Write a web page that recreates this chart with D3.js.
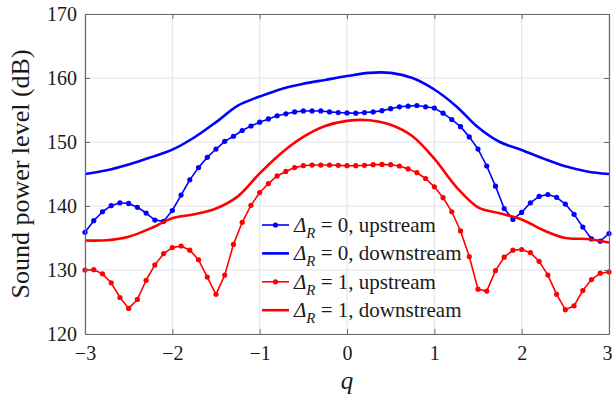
<!DOCTYPE html>
<html>
<head>
<meta charset="utf-8">
<script src="https://cdn.jsdelivr.net/npm/d3@7"></script>
<style>
  body { margin: 0; background: #fff; }
  svg text { font-family: "Liberation Serif", "Times New Roman", serif; fill: #1a1a1a; }
  .grid line { stroke: #e3e3e3; stroke-width: 1; }
  .axis path, .axis line { stroke: #6b6b6b; }
</style>
</head>
<body>
<svg id="chart" width="612" height="398"></svg>
<script>
// q positions of the marker series (step 0.1)
var qMarkers = d3.range(61).map(function(i) { return Math.round((-3 + i * 0.1) * 10) / 10; });
// q positions of the smooth series (step 0.25)
var qSmooth = d3.range(25).map(function(i) { return -3 + i * 0.25; });

var up0 = [135.9, 137.7, 139.1, 140.05, 140.5, 140.4, 139.8, 138.9, 137.8, 137.6,
  139.3, 141.7, 144.1, 146.0, 147.6, 148.9, 150.1, 150.9, 151.8, 152.5,
  153.1, 153.6, 154.1, 154.4, 154.7, 154.85, 154.85, 154.85, 154.7, 154.6,
  154.55, 154.5, 154.6, 154.7, 154.9, 155.2, 155.5, 155.6, 155.7, 155.5,
  155.3, 154.5, 153.5, 152.4, 150.8, 148.9, 146.25, 143.1, 139.6, 137.9,
  139.0, 140.5, 141.5, 141.8, 141.35, 140.3, 138.7, 136.7, 134.85, 134.5, 135.7];
var down0 = [145.0, 145.6, 146.5, 147.6, 148.8, 150.7, 153.1, 155.7, 157.1, 158.3,
  159.1, 159.7, 160.3, 160.8, 160.8, 160.0, 158.2, 155.6, 152.3, 150.0,
  148.75, 147.4, 146.2, 145.4, 145.0];
var up1 = [130.0, 130.05, 129.4, 128.0, 125.7, 124.0, 125.4, 128.4, 130.8, 132.55,
  133.5, 133.75, 133.1, 131.6, 128.9, 126.2, 129.2, 134.0, 137.45, 140.1,
  142.1, 143.5, 144.7, 145.4, 146.0, 146.3, 146.4, 146.4, 146.4, 146.35,
  146.3, 146.3, 146.35, 146.45, 146.5, 146.45, 146.25, 145.8, 145.2, 144.3,
  143.0, 141.3, 139.1, 136.1, 132.1, 127.0, 126.7, 129.9, 132.0, 133.1,
  133.2, 132.7, 131.35, 129.2, 126.2, 123.8, 124.4, 126.8, 128.5, 129.5, 129.7];
var down1 = [134.6, 134.65, 135.2, 136.5, 138.1, 138.7, 139.6, 141.5, 145.1, 148.3,
  150.8, 152.5, 153.3, 153.4, 152.7, 150.9, 147.4, 143.0, 139.8, 138.85,
  137.9, 136.2, 135.0, 134.85, 134.3];

var xTicks = [-3, -2, -1, 0, 1, 2, 3];
var yTicks = [120, 130, 140, 150, 160, 170];

var series = [
  {name: '0, upstream', q: qMarkers, v: up0, color: '#0000ff', markers: true},
  {name: '0, downstream', q: qSmooth, v: down0, color: '#0000ff', markers: false},
  {name: '1, upstream', q: qMarkers, v: up1, color: '#ff0000', markers: true},
  {name: '1, downstream', q: qSmooth, v: down1, color: '#ff0000', markers: false}
];

var margin = {top: 14, right: 3, bottom: 64, left: 85};
var width = 612 - margin.left - margin.right;
var height = 398 - margin.top - margin.bottom;

var svg = d3.select('#chart');
var g = svg.append('g').attr('transform', 'translate(' + margin.left + ',' + margin.top + ')');

var x = d3.scaleLinear().domain([-3, 3]).range([0, width]);
var y = d3.scaleLinear().domain([120, 170]).range([height, 0]);

// grid
g.append('g').attr('class', 'grid')
  .selectAll('line.v').data(xTicks).enter().append('line')
  .attr('x1', function(d) { return x(d); }).attr('x2', function(d) { return x(d); })
  .attr('y1', 0).attr('y2', height);
g.append('g').attr('class', 'grid')
  .selectAll('line.h').data(yTicks).enter().append('line')
  .attr('y1', function(d) { return y(d); }).attr('y2', function(d) { return y(d); })
  .attr('x1', 0).attr('x2', width);

// series
series.forEach(function(s) {
  var pts = s.q.map(function(q, i) { return [q, s.v[i]]; });
  var line = d3.line()
    .x(function(d) { return x(d[0]); })
    .y(function(d) { return y(d[1]); })
    .curve(s.markers ? d3.curveLinear : d3.curveCatmullRom);
  g.append('path')
    .datum(pts)
    .attr('d', line)
    .attr('fill', 'none')
    .attr('stroke', s.color)
    .attr('stroke-width', s.markers ? 1.6 : 2.6)
    .attr('stroke-linejoin', 'round');
  if (s.markers) {
    g.append('g').selectAll('circle').data(pts).enter().append('circle')
      .attr('cx', function(d) { return x(d[0]); })
      .attr('cy', function(d) { return y(d[1]); })
      .attr('r', 2.6)
      .attr('fill', s.color);
  }
});

// axes (MATLAB style box with inward ticks)
var fmt = d3.format('d');
var xAxis = g.append('g').attr('class', 'axis').attr('transform', 'translate(0,' + height + ')')
  .call(d3.axisBottom(x).tickValues(xTicks).tickFormat(fmt).tickSizeInner(-5).tickSizeOuter(0).tickPadding(12));
// keep the last label inside the page
xAxis.selectAll('.tick text').filter(function(d) { return d === 3; }).attr('dx', '-2');
g.append('g').attr('class', 'axis')
  .call(d3.axisTop(x).tickValues(xTicks).tickSizeInner(-5).tickSizeOuter(0).tickFormat(''));
g.append('g').attr('class', 'axis')
  .call(d3.axisLeft(y).tickValues(yTicks).tickFormat(fmt).tickSizeInner(-5).tickSizeOuter(0).tickPadding(8));
g.append('g').attr('class', 'axis').attr('transform', 'translate(' + width + ',0)')
  .call(d3.axisRight(y).tickValues(yTicks).tickSizeInner(-5).tickSizeOuter(0).tickFormat(''));
g.selectAll('.axis path').attr('stroke-width', 1.2);
g.selectAll('.axis text')
  .style('font-family', '"Liberation Serif", serif')
  .style('font-size', '20px')
  .style('fill', '#1a1a1a');

// axis labels
svg.append('text')
  .attr('x', margin.left + x(0))
  .attr('y', 389)
  .attr('text-anchor', 'middle')
  .style('font-size', '25px')
  .style('font-style', 'italic')
  .text('q');
svg.append('text')
  .attr('transform', 'translate(29,' + (margin.top + height / 2) + ') rotate(-90)')
  .attr('text-anchor', 'middle')
  .style('font-size', '26px')
  .text('Sound power level (dB)');

// legend
var legend = svg.append('g').attr('transform', 'translate(262,225)');
series.forEach(function(s, i) {
  var row = legend.append('g').attr('transform', 'translate(0,' + (i * 28.4) + ')');
  row.append('line')
    .attr('x1', 0).attr('x2', 27).attr('y1', 0).attr('y2', 0)
    .attr('stroke', s.color)
    .attr('stroke-width', s.markers ? 1.6 : 2.6);
  if (s.markers) {
    row.append('circle').attr('cx', 13.5).attr('cy', 0).attr('r', 2.6).attr('fill', s.color);
  }
  var t = row.append('text').attr('x', 32).attr('y', 7).style('font-size', '21px');
  t.append('tspan').style('font-style', 'italic').text('\u0394');
  t.append('tspan').style('font-style', 'italic').style('font-size', '15px').attr('dy', 6).text('R');
  t.append('tspan').attr('dy', -6).text(' = ' + s.name);
});
</script>
</body>
</html>
